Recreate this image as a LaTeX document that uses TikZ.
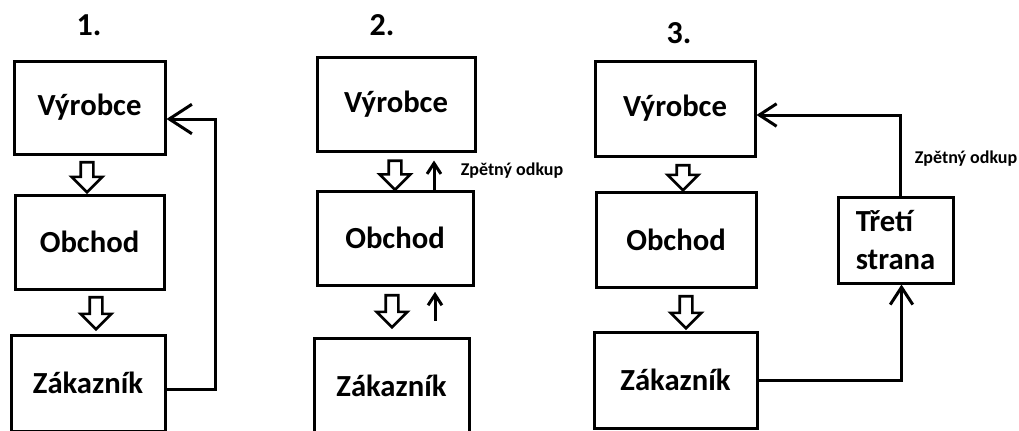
\documentclass[tikz,border=0pt]{standalone}
\usepackage{fontspec}
\setmainfont{Carlito}
\usetikzlibrary{positioning}
\usetikzlibrary{arrows.meta}
\usetikzlibrary{shapes.arrows}
\newcommand{\px}{0.75pt}

\tikzset{
  box/.style={draw, line width=2.25pt, inner sep=0pt, font=\fontsize{23}{28}\selectfont\bfseries},
  panelno/.style={font=\fontsize{24}{28}\selectfont\bfseries, inner sep=0pt},
  odkup/.style={font=\fontsize{13.5}{16}\selectfont\bfseries, inner sep=0pt},
  hollow/.style={draw, line width=2pt, single arrow, rotate=-90, minimum width=21pt,
    single arrow head extend=6.75pt, inner sep=3.75pt, single arrow tip angle=90},
  fb/.style={line width=2.25pt, -{Straight Barb[length=#1, width=1.3*#1]}},
  fb/.default=13pt
}

\begin{document}
\begin{tikzpicture}[x=0.75pt, y=-0.75pt]
\useasboundingbox (0,0) rectangle (1019,430);
\clip (0,0) rectangle (1019,430);

\begin{scope}
\node[panelno] (t1) at (89,25) {1.};
\node[box, minimum width=151*\px, minimum height=93*\px] (vyr1) at (89.5,107.5) {Výrobce};
\node[box, minimum width=149*\px, minimum height=94*\px] (obch1) at (89.5,242) {Obchod};
\node[box, minimum width=154*\px, minimum height=96*\px] (zak1) at (88,383) {Zákazník};

\node[hollow, minimum height=30*\px] (d11) at (87,174) {};
\node[hollow, minimum height=32*\px] (d12) at (96,310) {};

\coordinate (c1) at (215,119);
\draw[fb=17pt] ([yshift=-4.5pt]zak1.east) -| (c1) -- (vyr1.east |- c1);
\end{scope}

\begin{scope}
\node[panelno] (t2) at (382,25) {2.};
\node[box, minimum width=158*\px, minimum height=94*\px] (vyr2) at (396,104) {Výrobce};
\node[box, minimum width=156*\px, minimum height=94*\px] (obch2) at (395,238) {Obchod};
\node[box, minimum width=155*\px, minimum height=96*\px] (zak2) at (391.5,386) {Zákazník};

\node[hollow, minimum height=29*\px] (d21) at (395,172) {};
\node[hollow, minimum height=32*\px] (d22) at (392,308) {};

\coordinate (u21) at (434,0);
\coordinate (u22) at (435,0);
\draw[fb=8pt, shorten >=6pt] (obch2.north -| u21) -- (vyr2.south -| u21);
\draw[fb=8pt, shorten >=4pt, shorten <=12pt] (zak2.north -| u22) -- (obch2.south -| u22);

\node[odkup] (o2) at (512,171) {Zpětný odkup};
\end{scope}

\begin{scope}
\node[panelno] (t3) at (679,33) {3.};
\node[box, minimum width=160*\px, minimum height=95*\px] (vyr3) at (675,108.5) {Výrobce};
\node[box, minimum width=160*\px, minimum height=95*\px] (obch3) at (676,239.5) {Obchod};
\node[box, minimum width=163*\px, minimum height=96*\px] (zak3) at (675.5,380) {Zákazník};
\node[box, minimum width=115*\px, minimum height=86*\px, align=left] (tret) at (895.5,240) {Třetí\\strana};

\node[hollow, minimum height=25*\px] (d31) at (683,174.5) {};
\node[hollow, minimum height=32*\px] (d32) at (686,309) {};

\coordinate (c3) at (900,115);
\draw[fb] (zak3.east) -| ([xshift=4.5pt]tret.south);
\draw[fb] ([xshift=3.5pt]tret.north) |- (vyr3.east |- c3);

\node[odkup] (o3) at (966,159) {Zpětný odkup};
\end{scope}

\end{tikzpicture}
\end{document}
